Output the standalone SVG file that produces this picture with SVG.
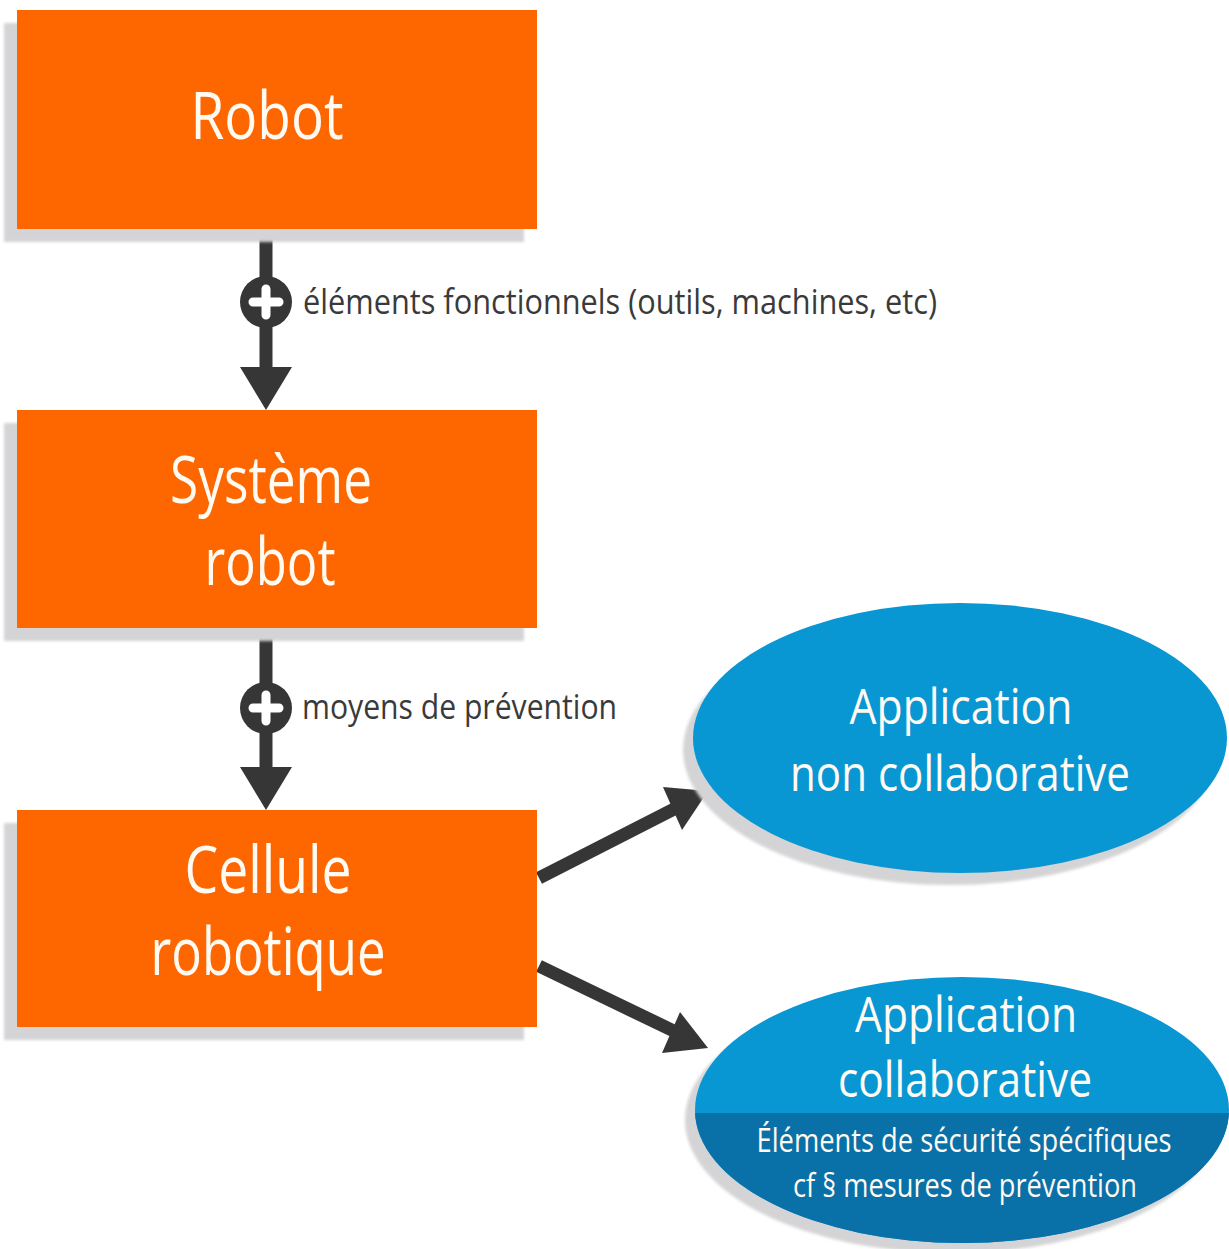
<svg xmlns="http://www.w3.org/2000/svg" width="1229" height="1249" viewBox="0 0 1229 1249">
  <style>
    .box { fill: #fe6600; }
    .shadow { fill: #d4d4d6; filter: url(#soft); }
    .oval { fill: #0897d2; }
    .band { fill: #0a70a8; }
    .nodeText { font-family: "Open Sans", "Liberation Sans", sans-serif; fill: #fffaf2; text-anchor: middle; }
    .big { font-size: 66px; }
    .mid { font-size: 50px; }
    .small { font-size: 32px; }
    .label { font-family: "Open Sans", "Liberation Sans", sans-serif; font-size: 34px; fill: #3a3a3a; }
    .link { stroke: #363636; stroke-width: 13; fill: none; }
    .head { fill: #363636; }
  </style>
  <defs>
    <filter id="soft" x="-10%" y="-10%" width="120%" height="120%">
      <feGaussianBlur stdDeviation="1.5"/>
    </filter>
    <clipPath id="collabClip">
      <ellipse cx="962" cy="1110" rx="267" ry="133"/>
    </clipPath>
  </defs>

  <rect width="1229" height="1249" fill="#ffffff"/>

  <!-- connectors -->
  <g id="connectors">
    <line class="link" x1="266" y1="229" x2="266" y2="372"/>
    <polygon class="head" points="240,367 292,367 266,410"/>
    <line class="link" x1="266" y1="628" x2="266" y2="772"/>
    <polygon class="head" points="240,767 292,767 266,810"/>
    <line class="link" x1="539" y1="878" x2="680" y2="806"/>
    <polygon class="head" points="663,787 708,791 682,830"/>
    <line class="link" x1="539" y1="966" x2="680" y2="1034"/>
    <polygon class="head" points="680,1012 708,1048 662,1053"/>
  </g>

  <!-- connector labels with plus badges -->
  <g id="label-elements">
    <circle cx="266" cy="302" r="26" fill="#363636"/>
    <path d="M266 289 V315 M253 302 H279" stroke="#ffffff" stroke-width="9" stroke-linecap="round"/>
    <text class="label" x="303" y="314" textLength="634" lengthAdjust="spacingAndGlyphs">éléments fonctionnels (outils, machines, etc)</text>
  </g>
  <g id="label-prevention">
    <circle cx="266" cy="708" r="26" fill="#363636"/>
    <path d="M266 695 V721 M253 708 H279" stroke="#ffffff" stroke-width="9" stroke-linecap="round"/>
    <text class="label" x="302" y="719" textLength="315" lengthAdjust="spacingAndGlyphs">moyens de prévention</text>
  </g>

  <!-- boxes -->
  <g id="robot">
    <rect class="shadow" x="4" y="23" width="520" height="219"/>
    <rect class="box" x="17" y="10" width="520" height="219"/>
    <text class="nodeText big" x="267" y="139" textLength="153" lengthAdjust="spacingAndGlyphs">Robot</text>
  </g>
  <g id="systeme-robot">
    <rect class="shadow" x="4" y="423" width="520" height="218"/>
    <rect class="box" x="17" y="410" width="520" height="218"/>
    <text class="nodeText big" x="271" y="503" textLength="202" lengthAdjust="spacingAndGlyphs">Système</text>
    <text class="nodeText big" x="270" y="585" textLength="131" lengthAdjust="spacingAndGlyphs">robot</text>
  </g>
  <g id="cellule-robotique">
    <rect class="shadow" x="4" y="823" width="520" height="217"/>
    <rect class="box" x="17" y="810" width="520" height="217"/>
    <text class="nodeText big" x="268" y="893" textLength="167" lengthAdjust="spacingAndGlyphs">Cellule</text>
    <text class="nodeText big" x="268" y="975" textLength="235" lengthAdjust="spacingAndGlyphs">robotique</text>
  </g>

  <!-- ovals -->
  <g id="app-non-collab">
    <ellipse class="shadow" cx="950" cy="750" rx="267" ry="135"/>
    <ellipse class="oval" cx="960" cy="738" rx="267" ry="135"/>
    <text class="nodeText mid" x="961" y="724" textLength="223" lengthAdjust="spacingAndGlyphs">Application</text>
    <text class="nodeText mid" x="960" y="791" textLength="340" lengthAdjust="spacingAndGlyphs">non collaborative</text>
  </g>
  <g id="app-collab">
    <ellipse class="shadow" cx="952" cy="1120" rx="267" ry="133"/>
    <ellipse class="oval" cx="962" cy="1110" rx="267" ry="133"/>
    <rect class="band" x="690" y="1113" width="545" height="140" clip-path="url(#collabClip)"/>
    <text class="nodeText mid" x="966" y="1032" textLength="222" lengthAdjust="spacingAndGlyphs">Application</text>
    <text class="nodeText mid" x="965" y="1097" textLength="254" lengthAdjust="spacingAndGlyphs">collaborative</text>
    <text class="nodeText small" x="964" y="1152" textLength="415" lengthAdjust="spacingAndGlyphs">Éléments de sécurité spécifiques</text>
    <text class="nodeText small" x="965" y="1197" textLength="344" lengthAdjust="spacingAndGlyphs">cf § mesures de prévention</text>
  </g>
</svg>
